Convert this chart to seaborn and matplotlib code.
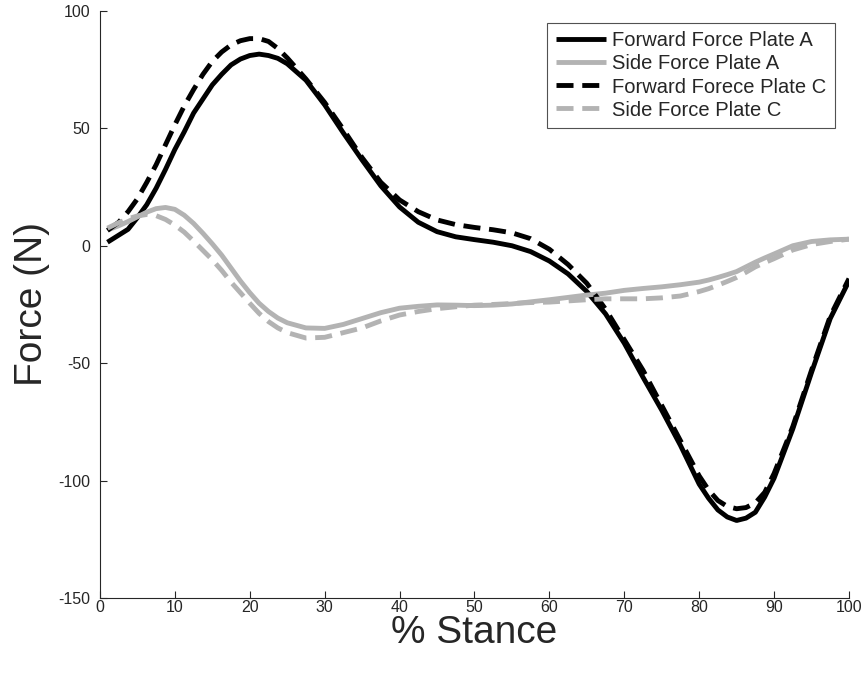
import numpy as np
import pandas as pd
import seaborn as sns
import matplotlib
matplotlib.use("Agg")
import matplotlib.pyplot as plt

# % stance sample positions (finer spacing where the curves bend sharply)
stance = [1, 2.5, 3.75, 5, 6.25, 7.5, 8.75, 10, 11.25, 12.5, 13.75, 15, 16.25, 17.5,
          18.75, 20, 21.25, 22.5, 23.75, 25,
          27.5, 30, 32.5, 35, 37.5, 40, 42.5, 45, 47.5, 50, 52.5, 55, 57.5, 60,
          62.5, 65, 67.5, 70, 72.5, 75, 77.5,
          80, 81.25, 82.5, 83.75, 85, 86.25, 87.5, 88.75, 90,
          92.5, 95, 97.5, 100]

forward_a = [1.5, 4.5, 7, 12, 17.5, 24.5, 32.5, 41, 48.5, 56.5, 62.5, 68.5, 73, 77,
             79.5, 81, 81.6, 81, 79.8, 77.5,
             70.5, 60, 48, 36.5, 25.5, 16.5, 10, 6, 3.8, 2.6, 1.5, 0, -2.5, -6.5,
             -12, -19.5, -29, -41.5, -56, -70, -85,
             -101.5, -107.5, -112.5, -115.5, -117, -116, -113.5, -107, -99,
             -78, -54, -31, -15]

side_a = [6.7, 8.5, 10.3, 12.3, 14.3, 15.8, 16.3, 15.5, 13, 9.5, 5.3, 0.8, -4, -9.5,
          -15, -20, -24.5, -28, -30.8, -32.8,
          -35, -35.2, -33.5, -31, -28.5, -26.6, -25.8, -25.2, -25.3, -25.5, -25.3, -24.8, -23.9, -23,
          -22, -21, -20.2, -19, -18.2, -17.5, -16.6,
          -15.5, -14.6, -13.5, -12.3, -11, -9, -7, -5.2, -3.5,
          0, 1.8, 2.5, 2.8]

forward_c = [6.5, 10, 14.5, 20, 27, 34.5, 43, 51.5, 59.5, 66.5, 73, 78.5, 82.5, 85.5,
             87.3, 88.2, 88.2, 87, 84, 80,
             71, 61, 49.5, 37.5, 27, 19.5, 14.5, 11, 9, 7.8, 6.8, 5.5, 3, -1.5,
             -8, -16, -27, -40, -53, -68, -83,
             -98, -104, -108.5, -111, -112, -111.5, -109.5, -105, -97,
             -77, -53, -30, -14]

side_c = [7.5, 9.8, 11.5, 12.7, 13.3, 12.8, 11.2, 8.8, 5.8, 2, -2, -6, -10.5, -15.5,
          -20, -24.5, -28.8, -32.3, -35, -37,
          -39.3, -39, -37, -35, -32, -29.5, -28, -26.8, -26, -25.3, -25, -24.6, -24.2, -24,
          -23.5, -23, -22.6, -22.6, -22.6, -22.2, -21.4,
          -19.5, -18.3, -16.8, -15.2, -13.5, -11.3, -9, -7.2, -5.5,
          -1.8, 0.5, 1.8, 2.8]

series_names = ["Forward Force Plate A", "Side Force Plate A",
                "Forward Forece Plate C", "Side Force Plate C"]
series_values = [forward_a, side_a, forward_c, side_c]
series_colors = ["#000000", "#b3b3b3", "#000000", "#b3b3b3"]
series_dashed = [False, False, True, True]

x_ticks = [0, 10, 20, 30, 40, 50, 60, 70, 80, 90, 100]
y_ticks = [-150, -100, -50, 0, 50, 100]

sns.set_style("ticks")
plt.rcParams["font.family"] = ["Liberation Sans", "DejaVu Sans"]
plt.rcParams["axes.unicode_minus"] = False

fig = plt.figure(figsize=(8.67, 6.86), dpi=100)
ax = fig.add_axes([0.1153, 0.1283, 0.9792 - 0.1153, 0.9841 - 0.1283])

for name, vals, col, dashed in zip(series_names, series_values, series_colors, series_dashed):
    df = pd.DataFrame({"stance": stance, "force": vals})
    sns.lineplot(data=df, x="stance", y="force", ax=ax,
                 color=col, linewidth=3.5, label=name)
    ln = ax.get_lines()[-1]
    ln.set_solid_capstyle("butt")
    ln.set_solid_joinstyle("round")
    if dashed:
        ln.set_dashes((3.5, 1.8))
        ln.set_dash_capstyle("butt")

ax.set_xlim(0, 100)
ax.set_ylim(-150, 100)
ax.set_xticks(x_ticks)
ax.set_yticks(y_ticks)
ax.set_xticklabels([str(v) for v in x_ticks])
ax.set_yticklabels([str(v) for v in y_ticks])

ax.set_xlabel("% Stance", fontsize=28, color="#262626", labelpad=0)
ax.set_ylabel("Force (N)", fontsize=28, color="#262626", labelpad=6)

for side in ["top", "right"]:
    ax.spines[side].set_visible(False)
for side in ["left", "bottom"]:
    ax.spines[side].set_color("#262626")
    ax.spines[side].set_linewidth(0.8)

ax.tick_params(direction="in", length=5, width=0.8, color="#262626",
               labelsize=11.5, labelcolor="#262626")
ax.tick_params(axis="x", pad=1.5)
ax.tick_params(axis="y", pad=7)

leg = ax.legend(loc="upper right", bbox_to_anchor=(835 / 867, 1 - 23 / 686),
                bbox_transform=fig.transFigure, borderaxespad=0,
                fontsize=14.5, frameon=True, fancybox=False,
                handlelength=2.5, handletextpad=0.3, labelspacing=0.2,
                borderpad=0.42)
leg.get_frame().set_edgecolor("#262626")
leg.get_frame().set_linewidth(0.8)

fig.savefig("out.png", dpi=100)
